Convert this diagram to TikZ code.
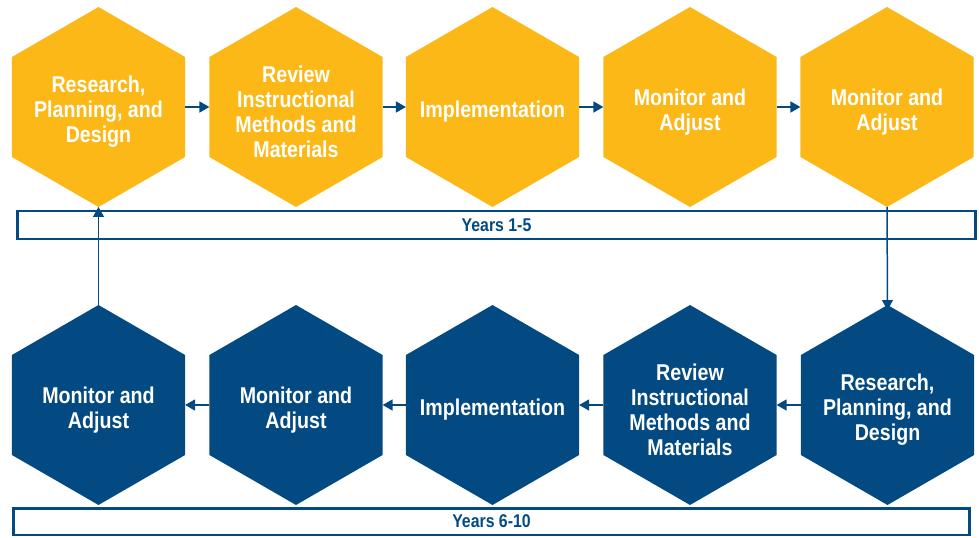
\documentclass[tikz,border=0pt]{standalone}
\usepackage{fontspec}
\newfontfamily\hexfont{Liberation Sans}[FakeStretch=0.86]
\usepackage{xcolor}
\usetikzlibrary{shapes.geometric,arrows.meta}

\definecolor{hexgold}{HTML}{FBB817}
\definecolor{hexblue}{HTML}{034A82}

\tikzset{
    hexcell/.style={regular polygon,regular polygon sides=6,shape border rotate=30,
        minimum size=4cm,inner sep=0pt,outer sep=0pt},
    hexgoldcell/.style={hexcell,fill=hexgold},
    hexbluecell/.style={hexcell,fill=hexblue},
    hextext/.style={align=center,text=white,inner sep=0pt,yshift=-0.1cm,
        font=\hexfont\bfseries\fontsize{13}{14.2}\selectfont},
    yearbox/.style={draw=hexblue,line width=1.7pt,inner sep=0pt,text=hexblue,
        font=\hexfont\bfseries\fontsize{10.5}{12}\selectfont},
    flow/.style={hexblue,line width=0.85pt,-{Triangle[length=0.2cm,width=0.22cm]}}
}

\begin{document}
\begin{tikzpicture}[x=0.02cm,y=-0.02cm]
    \useasboundingbox (0,0) rectangle (979,537);

    % years 1-5
    \node[hexgoldcell,label={[hextext]center:Research,\\Planning, and\\Design}] (research1) at (98.5,107) {};
    \node[hexgoldcell,label={[hextext]center:Review\\Instructional\\Methods and\\Materials}] (review1) at (296,107) {};
    \node[hexgoldcell,label={[hextext]center:Implementation}] (implement1) at (492.5,107) {};
    \node[hexgoldcell,label={[hextext]center:Monitor and\\Adjust}] (monitorA1) at (690,107) {};
    \node[hexgoldcell,label={[hextext]center:Monitor and\\Adjust}] (monitorB1) at (887,107) {};

    % years 6-10
    \node[hexbluecell,label={[hextext]center:Research,\\Planning, and\\Design}] (research2) at (887.5,405) {};
    \node[hexbluecell,label={[hextext]center:Review\\Instructional\\Methods and\\Materials}] (review2) at (690,405) {};
    \node[hexbluecell,label={[hextext]center:Implementation}] (implement2) at (492.5,405) {};
    \node[hexbluecell,label={[hextext]center:Monitor and\\Adjust}] (monitorA2) at (296,405) {};
    \node[hexbluecell,label={[hextext]center:Monitor and\\Adjust}] (monitorB2) at (98.5,405) {};

    \node[yearbox,minimum width=19.18cm,minimum height=0.56cm] (years1) at (496.5,225) {Years 1-5};
    \node[yearbox,minimum width=19.14cm,minimum height=0.54cm] (years2) at (491.5,521.5) {Years 6-10};

    \draw[flow] (research1.0) -- (review1.180);
    \draw[flow] (review1.0) -- (implement1.180);
    \draw[flow] (implement1.0) -- (monitorA1.180);
    \draw[flow] (monitorA1.0) -- (monitorB1.180);
    \draw[flow] (monitorB1.-90) -- ([yshift=-0.1cm]research2.90);
    \draw[flow] (research2.180) -- (review2.0);
    \draw[flow] (review2.180) -- (implement2.0);
    \draw[flow] (implement2.180) -- (monitorA2.0);
    \draw[flow] (monitorA2.180) -- (monitorB2.0);
    \draw[flow] (monitorB2.90) -- (research1.-90);
\end{tikzpicture}
\end{document}
